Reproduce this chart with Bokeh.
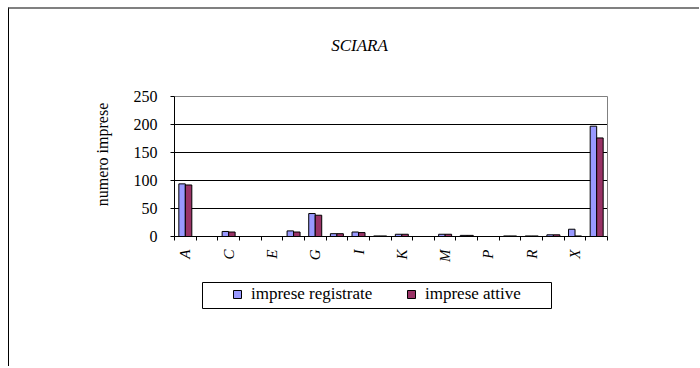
import math
from bokeh.plotting import figure
from bokeh.models import (ColumnDataSource, FixedTicker, Legend, LegendItem, Range1d, Grid,
                          Label, BoxAnnotation)
from bokeh.transform import dodge
from bokeh.embed import file_html
from bokeh.resources import INLINE

# ---- data ----
categories = ["A", "B", "C", "D", "E", "F", "G", "H", "I", "J",
              "K", "L", "M", "N", "P", "Q", "R", "S", "X", "Totale"]
registrate = [94, 0, 9, 0, 0, 10, 41, 5, 8, 1, 4, 0, 4, 2, 0, 1, 1, 3, 13, 197]
attive = [92, 0, 8, 0, 0, 8, 38, 5, 7, 1, 4, 0, 4, 2, 0, 1, 1, 3, 1, 176]
y_ticks = [0, 50, 100, 150, 200, 250]
title_text = "SCIARA"
y_label = "numero imprese"
series_names = ["imprese registrate", "imprese attive"]
colors = ["#9999FF", "#993366"]

FONT = "Liberation Serif"

n = len(categories)
y_max = y_ticks[-1]
centers = [i + 0.5 for i in range(n)]
src = ColumnDataSource(dict(x=centers, reg=registrate, att=attive, cat=categories))

# ---- layout geometry (page pixels) ----
W, H = 691, 359          # canvas size
OX, OY = 9, 9            # canvas origin on the page (after margin + border)
PL, PR, PT, PB = 174, 607, 96, 236   # plot area edges on the page
sx = (PR - PL) / n
sy = (PB - PT) / y_max
x_range = Range1d(-(PL - OX) / sx, n + (OX + W - PR) / sx)
y_range = Range1d(-(OY + H - PB) / sy, y_max + (PT - OY) / sy)

p = figure(width=W, height=H, x_range=x_range, y_range=y_range,
           output_backend="svg", toolbar_location=None, min_border=0,
           background_fill_color="white", border_fill_color="white")
p.outline_line_color = None
p.styles = {"margin-left": "8px", "margin-top": "7px",
            "border-left": "1px solid black", "border-top": "2px solid #808080"}

# grid and plot-area border
p.xgrid.visible = False
p.ygrid.ticker = FixedTicker(ticks=y_ticks[1:-1])
p.ygrid.grid_line_color = "black"
p.ygrid.cross_bounds = (0, n)
p.add_layout(Grid(dimension=1, ticker=FixedTicker(ticks=[y_max]), cross_bounds=(0, n),
                  grid_line_color="#808080"))
p.add_layout(Grid(dimension=0, ticker=FixedTicker(ticks=[n]), cross_bounds=(0, y_max),
                  grid_line_color="#808080"))

bw = 0.3
r1 = p.vbar(x=dodge('x', -bw / 2), top='reg', width=bw, source=src,
            fill_color=colors[0], line_color="black", line_width=1)
r2 = p.vbar(x=dodge('x', bw / 2), top='att', width=bw, source=src,
            fill_color=colors[1], line_color="black", line_width=1)

# x axis
xa = p.xaxis[0]
xa.fixed_location = 0
xa.bounds = (0, n)
xa.ticker = FixedTicker(ticks=centers, minor_ticks=list(range(n + 1)))
xa.major_label_overrides = {c: (categories[i] if i % 2 == 0 and i < n - 1 else "")
                            for i, c in enumerate(centers)}
xa.major_tick_out = 0
xa.major_tick_in = 0
xa.minor_tick_out = 4
xa.minor_tick_in = 0
xa.minor_tick_line_color = "black"
xa.axis_line_color = "black"
xa.major_label_orientation = math.pi / 2
xa.major_label_text_font = FONT
xa.major_label_text_font_style = "italic"
xa.major_label_text_font_size = "15px"
xa.major_label_text_color = "black"
xa.major_label_standoff = 9

# y axis
ya = p.yaxis[0]
ya.fixed_location = 0
ya.bounds = (0, y_max)
ya.ticker = FixedTicker(ticks=y_ticks)
ya.major_tick_out = 4
ya.major_tick_in = 0
ya.minor_tick_line_color = None
ya.axis_line_color = "black"
ya.major_label_text_font = FONT
ya.major_label_text_font_size = "16px"
ya.major_label_text_color = "black"
ya.major_label_standoff = 13

# y axis title (screen position relative to the canvas bottom-left)
p.add_layout(Label(x=102 - OX, y=OY + H - 154, x_units="screen", y_units="screen",
                   text=y_label, angle=math.pi / 2, text_font=FONT,
                   text_font_size="16px", text_color="black",
                   text_align="center", text_baseline="middle"))

# title
p.add_layout(Label(x=359 - OX, y=OY + H - 45, x_units="screen", y_units="screen",
                   text=title_text, text_font=FONT, text_font_style="italic",
                   text_font_size="17px", text_color="black",
                   text_align="center", text_baseline="middle"))

# legend frame (in data units derived from the plot geometry)
p.add_layout(BoxAnnotation(left=(202 - PL) / sx, right=(551 - PL) / sx,
                           top=(PB - 282) / sy, bottom=(PB - 308) / sy,
                           fill_color="white", fill_alpha=1,
                           line_color="black", line_width=1, line_alpha=1, level="annotation"))

legend = Legend(items=[LegendItem(label=series_names[0], renderers=[r1]),
                       LegendItem(label=series_names[1], renderers=[r2])],
                orientation="horizontal", location=(232 - OX, OY + H - 304),
                padding=0, margin=0,
                spacing=33, glyph_width=10, glyph_height=10, label_standoff=9,
                label_width=122, label_height=10,
                label_text_font=FONT, label_text_font_size="17px", label_text_color="black",
                border_line_alpha=0, background_fill_alpha=0)
p.add_layout(legend)

open("out.html", "w").write(file_html(p, INLINE))
